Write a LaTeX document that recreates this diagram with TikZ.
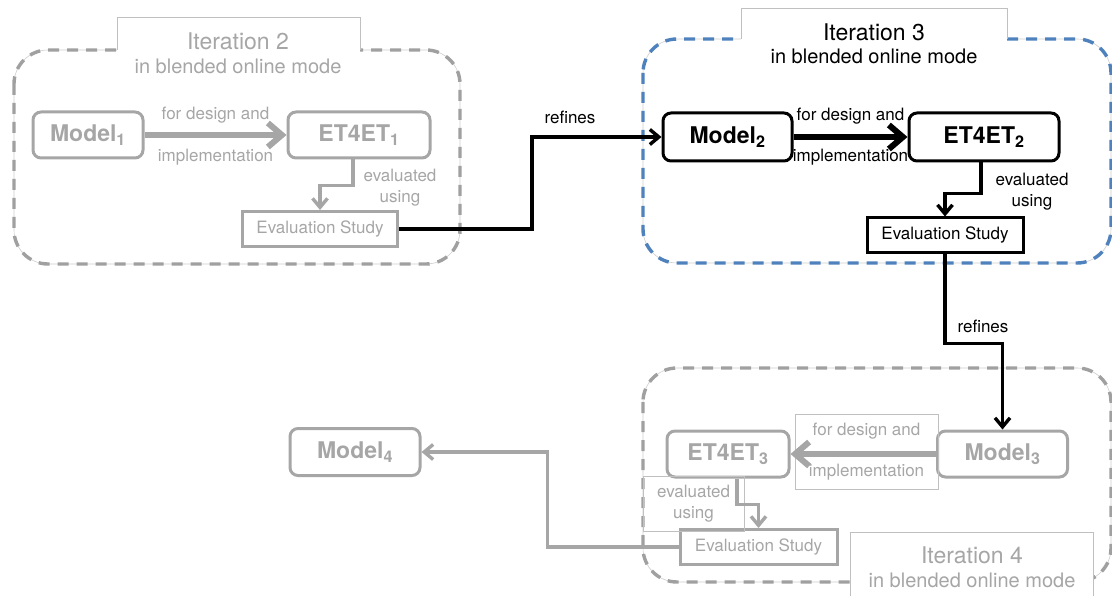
\documentclass[tikz,border=0pt]{standalone}
\usepackage{fontspec}
\setmainfont{TeX Gyre Heros}
\usetikzlibrary{arrows.meta}
\definecolor{fadegray}{HTML}{A6A6A6}
\definecolor{tabgray}{HTML}{C0C0C0}
\definecolor{dashgray}{HTML}{A0A0A0}
\definecolor{dashblue}{HTML}{4F81BD}
\newcommand{\itertitle}{\fontsize{23}{26}\selectfont}
\newcommand{\itersub}{\fontsize{20}{23}\selectfont}
\newcommand{\boxlabel}{\fontsize{23}{26}\selectfont\bfseries}
\newcommand{\linklabel}{\fontsize{17}{21}\selectfont}
\tikzset{
  modelbox/.style={draw, rounded corners=8pt, line width=3pt, minimum height=46pt, font=\boxlabel},
  studybox/.style={draw, line width=3pt, minimum width=156pt, minimum height=35pt, inner sep=0pt, font=\linklabel},
  lblbox/.style={draw=tabgray, line width=1pt, align=center, font=\linklabel},
  faded/.style={draw=fadegray, text=fadegray},
  flow/.style={line width=3.4pt, -{Straight Barb[length=9pt,width=15pt]}},
  bigflow/.style={line width=6pt, -{Straight Barb[length=14pt,width=24pt]}},
  container/.style={line width=3.4pt, rounded corners=34pt, dash pattern=on 11pt off 8pt},
  tabline/.style={draw=tabgray, line width=1pt}
}

\begin{document}
\begin{tikzpicture}[x=1pt,y=-1pt]
			%%%%% START %%%%%
			\useasboundingbox (0,0) rectangle (1112,596);
			
			\draw[gray!40, line width=0.6pt, rounded corners=34pt] (14,50) rectangle (460,264);
			\draw[container, draw=dashgray] (14,50) rectangle (460,264);
			\draw[gray!40, line width=0.6pt, rounded corners=34pt] (643,39) rectangle (1111,263);
			\draw[container, draw=dashblue] (643,39) rectangle (1111,263);
			\draw[gray!40, line width=0.6pt, rounded corners=34pt] (643,368) rectangle (1111,582);
			\draw[container, draw=dashgray] (643,368) rectangle (1111,582);
			
			\fill[white] (117,18) rectangle (360,53);
			\draw[tabline] (117,50) |- (360,18) -- (360,50);
			\fill[white] (741,9) rectangle (1007,42);
			\draw[tabline] (741,39) |- (1007,9) -- (1007,39);
			\fill[white] (850,532) rectangle (1093,597);
			\draw[tabline] (850,597) |- (1093,532) -- (1093,597);
			
			\node[text=fadegray, font=\itertitle, anchor=base] (it2) at (238,50) {Iteration 2};
			\node[text=fadegray, font=\itersub, anchor=base] (it2sub) at (238,74) {in blended online mode};
			\node[font=\itertitle, anchor=base] (it3) at (874,41) {Iteration 3};
			\node[font=\itersub, anchor=base] (it3sub) at (874,64) {in blended online mode};
			\node[text=fadegray, font=\itertitle, anchor=base] (it4) at (972,563) {Iteration 4};
			\node[text=fadegray, font=\itersub, anchor=base] (it4sub) at (972,587) {in blended online mode};
			
			\node[modelbox, faded, minimum width=110pt] (m1) at (88,135) {Model\textsubscript{1}};
			\node[modelbox, faded, minimum width=142pt] (et1) at (359,135) {ET4ET\textsubscript{1}};
			\node[studybox, faded, minimum width=155pt] (es1) at (320,229) {Evaluation Study};
			\draw[bigflow, fadegray] (m1) -- node[yshift=20pt, font=\linklabel] {for design and} node[yshift=-22pt, font=\linklabel] {implementation} (et1);
			\draw[flow, fadegray] ([xshift=-6pt]et1.south) -- ++(0,26) -| (es1.north);
			\node[text=fadegray, font=\linklabel, align=center] (ev1) at (400,188) {evaluated\\using};
			
			\node[modelbox, minimum width=129pt, minimum height=48pt] (m2) at (727.5,137) {Model\textsubscript{2}};
			\node[modelbox, minimum width=150pt, minimum height=48pt] (et2) at (984,137) {ET4ET\textsubscript{2}};
			\node[studybox] (es2) at (945,235.5) {Evaluation Study};
			\draw[flow] (es1.east) -- ++(133,0) |- (m2.west);
			\node[font=\linklabel] (rf1) at (570,117) {refines};
			\draw[bigflow] (m2) -- node[yshift=21pt, font=\linklabel] {for design and} node[yshift=-20pt, font=\linklabel] {implementation} (et2);
			\draw[flow] ([xshift=-3pt]et2.south) -- ++(0,31) -| (es2.north);
			\node[font=\linklabel, align=center] (ev2) at (1032,192) {evaluated\\using};
			
			\node[modelbox, faded, minimum width=130pt] (m3) at (1002.5,454) {Model\textsubscript{3}};
			\node[modelbox, faded, minimum width=122pt] (et3) at (728,454) {ET4ET\textsubscript{3}};
			\node[studybox, faded, minimum width=157pt] (es3) at (758.5,547) {Evaluation Study};
			\node[modelbox, faded, minimum width=130pt, minimum height=47pt] (m4) at (355,452) {Model\textsubscript{4}};
			\draw[flow] (es2.south) -- ++(0,89) -| (m3.north);
			\node[font=\linklabel] (rf2) at (983,326) {refines};
			\node[lblbox, text=fadegray, minimum width=143pt, minimum height=75pt] (lb3) at (866.5,451.5) {for design and\\[20pt]implementation};
			\node[lblbox, text=fadegray, minimum width=101pt, minimum height=55pt] (lb4) at (693.5,503.5) {evaluated\\using};
			\draw[bigflow, fadegray] (m3) -- (et3);
			\draw[flow, fadegray] ([xshift=9pt]et3.south) -- ++(0,26) -| (es3.north);
			\draw[flow, fadegray] (es3.west) -- ++(-131,0) |- (m4.east);
			%%%%% END %%%%%
\end{tikzpicture}
\end{document}
